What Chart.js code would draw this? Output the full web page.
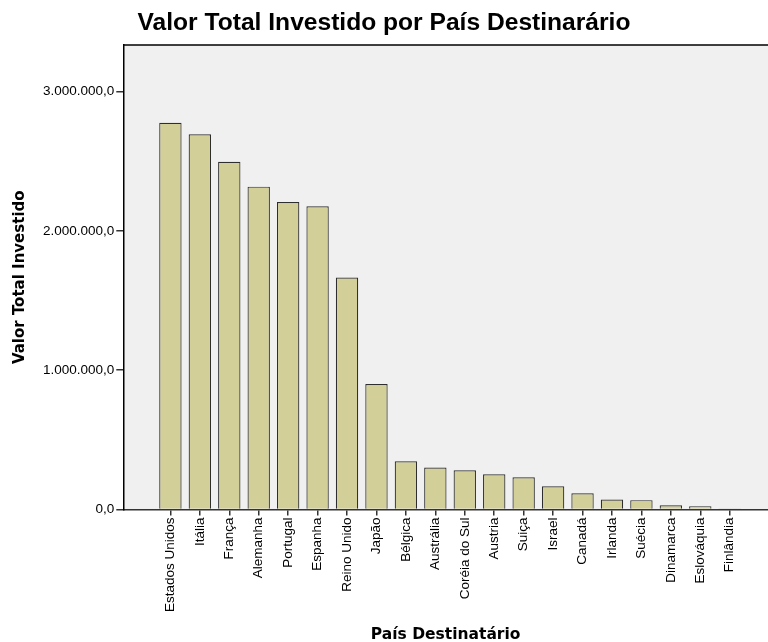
<!DOCTYPE html>
<html>
<head>
<meta charset="utf-8">
<script src="https://cdn.jsdelivr.net/npm/chart.js@4.4.0/dist/chart.umd.min.js"></script>
<style>
  html, body { margin: 0; padding: 0; background: #fff; }
  #wrap { width: 768px; height: 642px; }
</style>
</head>
<body>
<div id="wrap"><canvas id="chart" width="768" height="642"></canvas></div>
<script>
// country names, in the order the bars appear
const paises = [
  "Estados Unidos", "Itália", "França", "Alemanha", "Portugal", "Espanha",
  "Reino Unido", "Japão", "Bélgica", "Austrália", "Coréia do Sul", "Austria",
  "Suiça", "Israel", "Canadá", "Irlanda", "Suécia", "Dinamarca", "Eslováquia", "Finlândia"
];
// total invested
const valores = [
  2777000, 2694000, 2497000, 2318000, 2208000, 2177000,
  1666000, 901000, 346000, 301000, 282000, 253000,
  232000, 167000, 117000, 72000, 67000, 31000, 24000, 4000
];
const yTicks = [0, 1000000, 2000000, 3000000];

function formatValor(v) {
  const s = Math.round(v).toString().replace(/\B(?=(\d{3})+(?!\d))/g, ".");
  return s + ",0";
}

// paint plot background and top border
const plotFrame = {
  id: "plotFrame",
  beforeDraw(chart) {
    const { ctx, chartArea } = chart;
    ctx.save();
    ctx.fillStyle = "#f0f0f0";
    ctx.fillRect(chartArea.left, chartArea.top, chartArea.right - chartArea.left, chartArea.bottom - chartArea.top);
    ctx.strokeStyle = "#000";
    ctx.lineWidth = 1.5;
    ctx.beginPath();
    ctx.moveTo(chartArea.left, chartArea.top);
    ctx.lineTo(chartArea.right, chartArea.top);
    ctx.stroke();
    ctx.restore();
  }
};

const ctx = document.getElementById("chart").getContext("2d");
new Chart(ctx, {
  type: "bar",
  data: {
    datasets: [{
      label: "Valor Total Investido",
      data: valores.map((v, i) => ({ x: i, y: v })),
      backgroundColor: "#d3cf98",
      borderColor: "#2e2e2e",
      borderWidth: 1.2,
      barPercentage: 0.76,
      categoryPercentage: 1
    }]
  },
  options: {
    responsive: false,
    animation: false,
    layout: { padding: { left: 0, right: 0, top: 0, bottom: 0 } },
    plugins: {
      legend: { display: false },
      tooltip: { enabled: false },
      title: {
        display: true,
        text: "Valor Total Investido por País Destinarário",
        color: "#000",
        font: { family: "'Liberation Sans', Arial", size: 24.6, weight: "bold" },
        padding: { top: 8, bottom: 7.5 }
      }
    },
    scales: {
      x: {
        type: "linear",
        offset: false,
        min: -1.6,
        max: 20.3,
        afterBuildTicks: (scale) => { scale.ticks = paises.map((p, i) => ({ value: i })); },
        afterFit: (scale) => { scale.height = 132.5; },
        grid: { offset: false, drawOnChartArea: false, drawTicks: true, tickLength: 6, color: "#333", lineWidth: 1.5 },
        border: { display: true, color: "#333", width: 1.5 },
        ticks: {
          autoSkip: false,
          maxRotation: 90,
          minRotation: 90,
          padding: 2,
          color: "#000",
          font: { family: "Liberation Sans, Arial", size: 13.5 },
          callback: (v) => paises[v]
        },
        title: {
          display: true,
          text: "País Destinatário",
          color: "#000",
          font: { family: "DejaVu Sans", size: 15.5, weight: "bold" },
          padding: { top: 4, bottom: -2 }
        }
      },
      y: {
        min: 0,
        max: 3335000,
        afterBuildTicks: (scale) => { scale.ticks = yTicks.map((v) => ({ value: v })); },
        afterFit: (scale) => { scale.width = 123.3; },
        grid: { drawOnChartArea: false, drawTicks: true, tickLength: 7, color: "#333", lineWidth: 1.5 },
        border: { display: true, color: "#000", width: 1.5 },
        ticks: {
          padding: 2,
          color: "#000",
          font: { family: "Liberation Sans, Arial", size: 13.5 },
          callback: (v) => formatValor(v)
        },
        title: {
          display: true,
          text: "Valor Total Investido",
          color: "#000",
          font: { family: "DejaVu Sans", size: 15, weight: "bold" },
          padding: { top: 11, bottom: 0 }
        }
      }
    }
  },
  plugins: [plotFrame]
});
</script>
</body>
</html>
